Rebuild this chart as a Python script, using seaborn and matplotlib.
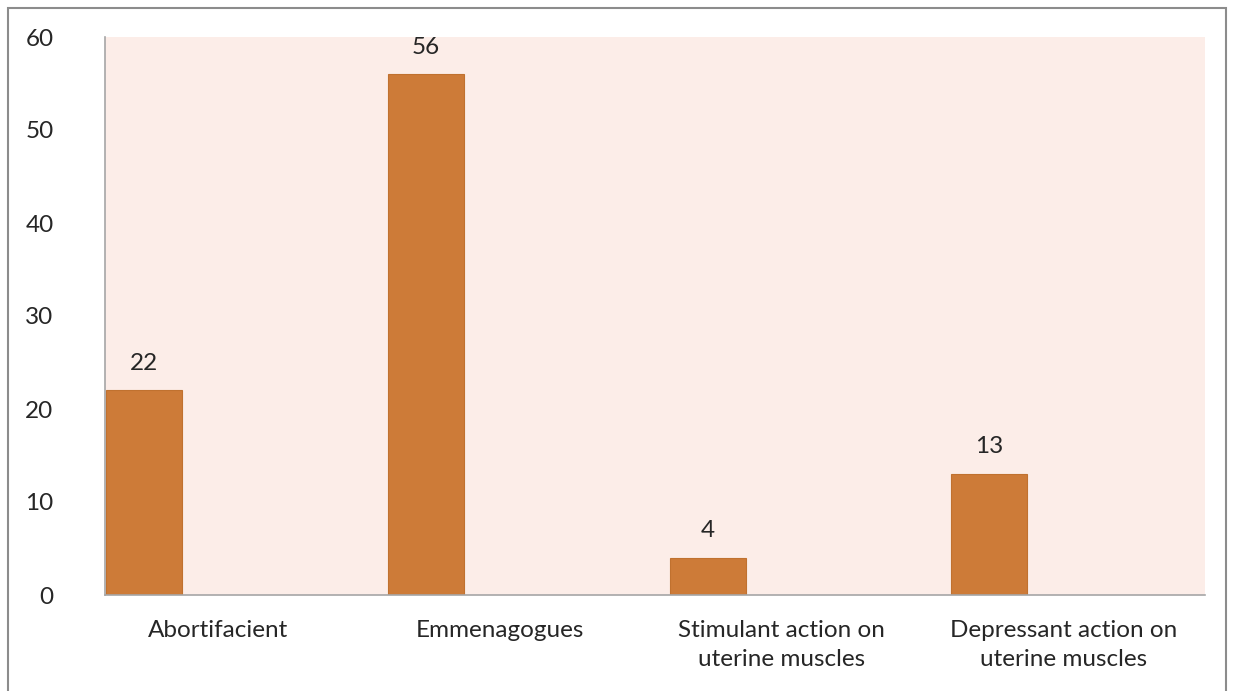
import matplotlib
matplotlib.use("Agg")
import matplotlib.pyplot as plt
import numpy as np
import seaborn as sns
from matplotlib.patches import Rectangle

# dados do gráfico
categorias = [
    "Abortifacient",
    "Emmenagogues",
    "Stimulant action on\nuterine muscles",
    "Depressant action on\nuterine muscles",
]
valores = [22, 56, 4, 13]
ticks_y = [0, 10, 20, 30, 40, 50, 60]

cor_barra = "#CD7B38"
cor_fundo = "#FCEDE8"
cor_eixo = "#A6A6A6"
cor_texto = "#262626"

sns.set_theme(style="white")
plt.rcParams["font.family"] = ["Lato", "DejaVu Sans"]

fig = plt.figure(figsize=(12.35, 6.91), dpi=100)
ax = fig.add_axes([105 / 1235, 1 - 595 / 691, 1100 / 1235, 558 / 691])

sns.barplot(
    x=categorias,
    y=valores,
    color=cor_barra,
    width=0.27,
    edgecolor="#C0712F",
    linewidth=0.8,
    saturation=1,
    ax=ax,
)

ax.set_facecolor(cor_fundo)
ax.set_xlim(-0.138, 3.765)
ax.set_ylim(0, 60)
ax.set_yticks(ticks_y)
ax.set_xticks(np.arange(len(categorias)) + 0.263)
ax.set_xticklabels(categorias, fontsize=17.5, color=cor_texto, linespacing=1.5)
ax.tick_params(axis="y", labelsize=17.5, colors=cor_texto, length=0, pad=37)
ax.tick_params(axis="x", length=0, pad=18)
ax.set_xlabel("")
ax.set_ylabel("")

for lado in ["top", "right"]:
    ax.spines[lado].set_visible(False)
for lado in ["left", "bottom"]:
    ax.spines[lado].set_color(cor_eixo)
    ax.spines[lado].set_linewidth(1.2)

ax.bar_label(ax.containers[0], padding=12, fontsize=17.5, color=cor_texto)

# moldura externa cinza
fig.patches.append(
    Rectangle(
        (8 / 1235, -0.05),
        1218 / 1235,
        1.05 - 8 / 691,
        transform=fig.transFigure,
        fill=False,
        edgecolor="#8C8C8C",
        linewidth=1.5,
    )
)

fig.savefig("out.png", dpi=100)
